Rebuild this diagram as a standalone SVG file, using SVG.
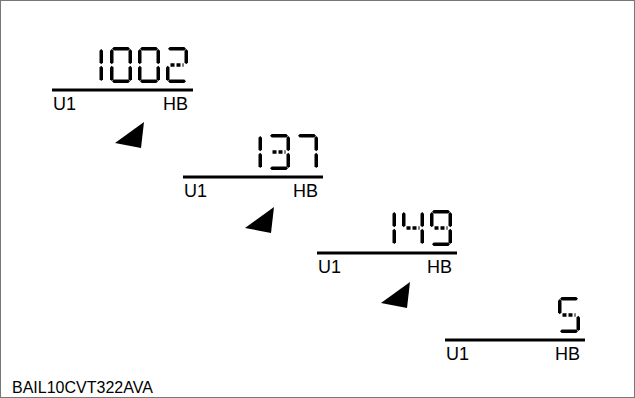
<svg xmlns="http://www.w3.org/2000/svg" xmlns:xlink="http://www.w3.org/1999/xlink" width="635" height="398" viewBox="0 0 635 398">
<style>
.lbl{font-family:"Liberation Sans",Arial,sans-serif;font-size:18px;fill:#000}
.code{font-family:"Liberation Sans",Arial,sans-serif;font-size:16px;fill:#000}
.base{stroke:#000;stroke-width:3}
.seg{fill:#000}
.mid{stroke:#000;stroke-width:3.5;stroke-dasharray:4 2}
.arrow{fill:#000}
</style>
<defs>
<polygon id="sa" class="seg" points="2,1.75 3.75,0 18.25,0 20,1.75 18.25,3.5 3.75,3.5"/>
<polygon id="sd" class="seg" points="2,34.25 3.75,32.5 18.25,32.5 20,34.25 18.25,36 3.75,36"/>
<polygon id="sf" class="seg" points="1.75,2 3.5,3.75 3.5,15.5 1.75,17.25 0,15.5 0,3.75"/>
<polygon id="sb" class="seg" points="20.25,2 22,3.75 22,15.5 20.25,17.25 18.5,15.5 18.5,3.75"/>
<polygon id="se" class="seg" points="1.75,18.75 3.5,20.5 3.5,32.25 1.75,34 0,32.25 0,20.5"/>
<polygon id="sc" class="seg" points="20.25,18.75 22,20.5 22,32.25 20.25,34 18.5,32.25 18.5,20.5"/>
<line id="sg" class="mid" x1="4.5" y1="18" x2="17.5" y2="18"/>
<g id="d0"><use xlink:href="#sa"/><use xlink:href="#sb"/><use xlink:href="#sc"/><use xlink:href="#sd"/><use xlink:href="#se"/><use xlink:href="#sf"/></g>
<g id="d1"><use xlink:href="#sb"/><use xlink:href="#sc"/></g>
<g id="d2"><use xlink:href="#sa"/><use xlink:href="#sb"/><use xlink:href="#sg"/><use xlink:href="#se"/><use xlink:href="#sd"/></g>
<g id="d3"><use xlink:href="#sa"/><use xlink:href="#sb"/><use xlink:href="#sg"/><use xlink:href="#sc"/><use xlink:href="#sd"/></g>
<g id="d4"><use xlink:href="#sf"/><use xlink:href="#sb"/><use xlink:href="#sg"/><use xlink:href="#sc"/></g>
<g id="d5"><use xlink:href="#sa"/><use xlink:href="#sf"/><use xlink:href="#sg"/><use xlink:href="#sc"/><use xlink:href="#sd"/></g>
<g id="d7"><use xlink:href="#sa"/><use xlink:href="#sb"/><use xlink:href="#sc"/></g>
<g id="d9"><use xlink:href="#sa"/><use xlink:href="#sb"/><use xlink:href="#sf"/><use xlink:href="#sg"/><use xlink:href="#sc"/><use xlink:href="#sd"/></g>
</defs>
<rect x="0.5" y="0.5" width="634" height="397" fill="#fff" stroke="#777" stroke-width="1"/>

<g id="display-1002">
<use xlink:href="#d1" x="81" y="47"/>
<use xlink:href="#d0" x="110" y="47"/>
<use xlink:href="#d0" x="138" y="47"/>
<use xlink:href="#d2" x="166" y="47"/>
<line class="base" x1="52" y1="90" x2="193" y2="90"/>
<text class="lbl" x="53" y="110">U1</text>
<text class="lbl" x="188" y="110" text-anchor="end">HB</text>
</g>

<g id="display-137">
<use xlink:href="#d1" x="240" y="134"/>
<use xlink:href="#d3" x="268" y="134"/>
<use xlink:href="#d7" x="296" y="134"/>
<line class="base" x1="183" y1="177" x2="323" y2="177"/>
<text class="lbl" x="184" y="197">U1</text>
<text class="lbl" x="318" y="197" text-anchor="end">HB</text>
</g>

<g id="display-149">
<use xlink:href="#d1" x="374" y="210"/>
<use xlink:href="#d4" x="402" y="210"/>
<use xlink:href="#d9" x="430" y="210"/>
<line class="base" x1="317" y1="253" x2="457" y2="253"/>
<text class="lbl" x="318" y="273">U1</text>
<text class="lbl" x="452" y="273" text-anchor="end">HB</text>
</g>

<g id="display-5">
<use xlink:href="#d5" x="558" y="297"/>
<line class="base" x1="445" y1="340" x2="585" y2="340"/>
<text class="lbl" x="446" y="360">U1</text>
<text class="lbl" x="580" y="360" text-anchor="end">HB</text>
</g>

<g id="connectors">
<polygon class="arrow" points="144,122 115,143 141,148"/>
<polygon class="arrow" points="274,207 245,228 271,233"/>
<polygon class="arrow" points="410,282 381,303 407,308"/>
</g>

<text class="code" x="12" y="393">BAIL10CVT322AVA</text>
</svg>
